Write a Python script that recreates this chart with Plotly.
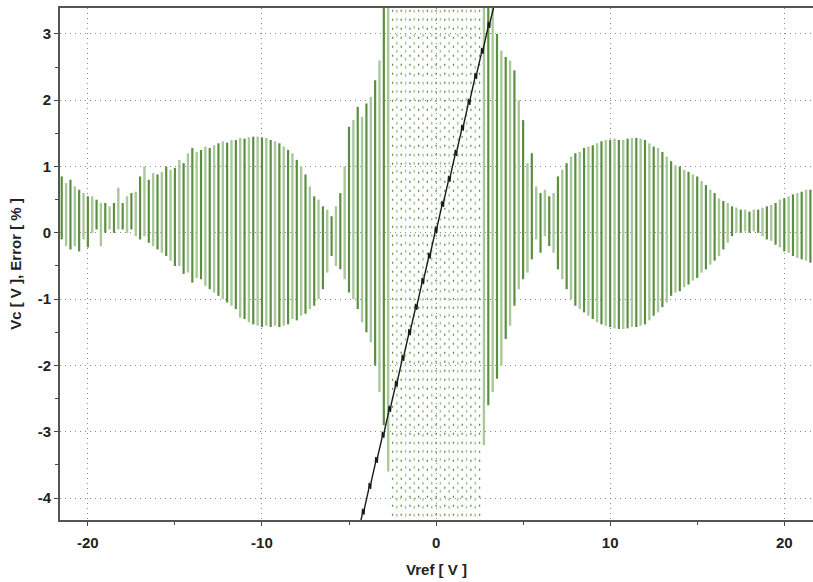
import plotly.graph_objects as go

# ---------------- data ----------------
# Error [%] sweep: one vertical stroke every 0.25 V of Vref (-21.5 .. 21.5),
# with the top and bottom of each stroke.
STROKE_VREF = [round(-21.5 + 0.25 * i, 2) for i in range(173)]

ERROR_TOP = [
    0.85, 0.75, 0.80, 0.70, 0.65, 0.60, 0.55, 0.55, 0.50, 0.45,   # -21.5 .. -19.25
    0.45, 0.40, 0.45, 0.68, 0.45, 0.55, 0.60, 0.62, 0.85, 1.00,   # -19.0 .. -16.75
    0.80, 0.90, 0.88, 0.92, 1.00, 0.95, 0.98, 1.10, 1.05, 1.20,   # -16.5 .. -14.25
    1.28, 1.22, 1.25, 1.30, 1.28, 1.32, 1.35, 1.38, 1.36, 1.40,   # -14.0 .. -11.75
    1.40, 1.43, 1.42, 1.44, 1.45, 1.45, 1.44, 1.43, 1.40, 1.38,   # -11.5 .. -9.25
    1.35, 1.30, 1.25, 1.20, 1.10, 1.00, 0.88, 0.70, 0.55, 0.50,   # -9.0 .. -6.75
    0.40, 0.35, 0.25, 0.40, 0.60, 1.00, 1.60, 1.70, 1.90, 1.75,   # -6.5 .. -4.25
    1.95, 2.05, 2.30, 2.60, 3.40, 3.40, 3.40, 3.40, 3.40, 3.40,   # -4.0 .. -1.75
    3.40, 3.40, 3.40, 3.40, 3.40, 3.40, 3.40, 3.40, 3.40, 3.40,   # -1.5 .. 0.75
    3.40, 3.40, 3.40, 3.40, 3.40, 3.40, 3.40, 3.40, 3.40, 3.40,   # 1.0 .. 3.25
    3.00, 2.75, 2.65, 2.60, 2.45, 2.00, 1.70, 1.05, 1.20, 0.70,   # 3.5 .. 5.75
    0.60, 0.65, 0.55, 0.60, 0.85, 0.95, 1.05, 1.15, 1.20, 1.22,   # 6.0 .. 8.25
    1.28, 1.30, 1.32, 1.35, 1.38, 1.40, 1.40, 1.42, 1.40, 1.40,   # 8.5 .. 10.75
    1.42, 1.43, 1.43, 1.42, 1.40, 1.35, 1.30, 1.28, 1.22, 1.15,   # 11.0 .. 13.25
    1.08, 1.02, 1.00, 0.95, 0.92, 0.88, 0.85, 0.78, 0.72, 0.65,   # 13.5 .. 15.75
    0.60, 0.52, 0.48, 0.45, 0.40, 0.38, 0.35, 0.35, 0.32, 0.35,   # 16.0 .. 18.25
    0.35, 0.38, 0.40, 0.42, 0.45, 0.50, 0.52, 0.55, 0.58, 0.60,   # 18.5 .. 20.75
    0.62, 0.65, 0.65,                                             # 21.0 .. 21.5
]

ERROR_BOTTOM = [
    -0.10, -0.20, -0.25, -0.20, -0.28, -0.10, -0.22, 0.00, 0.05, -0.20,   # -21.5 .. -19.25
    0.00, 0.05, 0.00, 0.05, 0.05, 0.00, 0.05, -0.05, -0.10, -0.05,       # -19.0 .. -16.75
    -0.15, -0.20, -0.25, -0.30, -0.35, -0.42, -0.50, -0.50, -0.62, -0.60, # -16.5 .. -14.25
    -0.75, -0.68, -0.70, -0.80, -0.85, -0.90, -0.95, -1.00, -1.05, -1.10, # -14.0 .. -11.75
    -1.15, -1.28, -1.30, -1.35, -1.38, -1.40, -1.42, -1.40, -1.42, -1.40, # -11.5 .. -9.25
    -1.42, -1.40, -1.38, -1.30, -1.32, -1.25, -1.22, -1.15, -1.10, -1.00, # -9.0 .. -6.75
    -0.85, -0.60, -0.35, -0.50, -0.55, -0.70, -0.90, -1.00, -1.15, -1.35, # -6.5 .. -4.25
    -1.50, -1.65, -2.00, -2.40, -2.90, -3.60, -4.40, -4.40, -4.40, -4.40, # -4.0 .. -1.75
    -4.40, -4.40, -4.40, -4.40, -4.40, -4.40, -4.40, -4.40, -4.40, -4.40, # -1.5 .. 0.75
    -4.40, -4.40, -4.40, -4.40, -4.40, -4.40, -4.40, -3.20, -2.60, -2.40, # 1.0 .. 3.25
    -2.20, -2.00, -1.60, -1.40, -1.10, -0.85, -0.70, -0.60, -0.40, -0.10, # 3.5 .. 5.75
    -0.30, -0.05, -0.20, -0.30, -0.55, -0.70, -0.85, -1.00, -1.10, -1.15, # 6.0 .. 8.25
    -1.20, -1.25, -1.30, -1.35, -1.38, -1.40, -1.42, -1.44, -1.45, -1.45, # 8.5 .. 10.75
    -1.44, -1.42, -1.42, -1.40, -1.38, -1.32, -1.25, -1.20, -1.12, -1.05, # 11.0 .. 13.25
    -0.95, -0.90, -0.88, -0.82, -0.78, -0.72, -0.68, -0.60, -0.55, -0.48, # 13.5 .. 15.75
    -0.42, -0.35, -0.25, -0.15, -0.05, 0.00, 0.00, 0.02, 0.00, 0.02,     # 16.0 .. 18.25
    0.00, -0.05, -0.10, -0.12, -0.18, -0.22, -0.28, -0.30, -0.35, -0.38, # 18.5 .. 20.75
    -0.40, -0.42, -0.45,                                                 # 21.0 .. 21.5
]

# Vc [V] versus Vref [V] (black staircase line), vertices
VC_VREF = [
    -4.40, -4.25, -4.22, -4.14, -4.11, -3.87, -3.84, -3.76, -3.73,
    -3.49, -3.46, -3.38, -3.35, -3.11, -3.08, -3.00, -2.97,
    -2.73, -2.70, -2.62, -2.59, -2.35, -2.32, -2.24, -2.21,
    -1.97, -1.94, -1.86, -1.83, -1.59, -1.56, -1.48, -1.45,
    -1.21, -1.18, -1.10, -1.07, -0.83, -0.80, -0.72, -0.69,
    -0.45, -0.42, -0.34, -0.31, -0.07, -0.04, 0.04, 0.07,
    0.31, 0.34, 0.42, 0.45, 0.69, 0.72, 0.80, 0.83,
    1.07, 1.10, 1.18, 1.21, 1.45, 1.48, 1.56, 1.59,
    1.83, 1.86, 1.94, 1.97, 2.21, 2.24, 2.32, 2.35,
    2.59, 2.62, 2.70, 2.73, 2.97, 3.00, 3.08, 3.11, 3.45,
]
VC_VALUE = [
    -4.43, -4.26, -4.16, -4.25, -4.15, -3.87, -3.77, -3.86, -3.76,
    -3.48, -3.38, -3.47, -3.37, -3.10, -3.00, -3.09, -2.99,
    -2.71, -2.61, -2.70, -2.60, -2.33, -2.23, -2.32, -2.22,
    -1.94, -1.84, -1.93, -1.83, -1.55, -1.45, -1.54, -1.44,
    -1.17, -1.07, -1.16, -1.06, -0.78, -0.68, -0.77, -0.67,
    -0.40, -0.30, -0.39, -0.29, -0.01, 0.09, 0.00, 0.10,
    0.38, 0.48, 0.39, 0.49, 0.76, 0.86, 0.77, 0.87,
    1.15, 1.25, 1.16, 1.26, 1.53, 1.63, 1.54, 1.64,
    1.92, 2.02, 1.93, 2.03, 2.31, 2.41, 2.32, 2.42,
    2.69, 2.79, 2.70, 2.80, 3.08, 3.18, 3.09, 3.19, 3.55,
]

X_TICKS = [-20, -10, 0, 10, 20]
Y_TICKS = [-4, -3, -2, -1, 0, 1, 2, 3]
X_RANGE = [-21.6, 21.65]
Y_RANGE = [-4.33, 3.39]

# ---------------- build figure ----------------
DARK = "#5b8f3f"
LIGHT = "#a9c89b"

groups = {("dark", False): ([], []), ("light", False): ([], []),
          ("dark", True): ([], []), ("light", True): ([], [])}
for i, x in enumerate(STROKE_VREF):
    top = ERROR_TOP[i]
    bot = ERROR_BOTTOM[i]
    burst = top >= Y_RANGE[1] and bot <= Y_RANGE[0]
    key = ("dark" if i % 2 == 0 else "light", burst)
    xs, ys = groups[key]
    xs += [x, x, None]
    ys += [bot, top, None]

fig = go.Figure()
styles = {
    ("light", False): dict(color=LIGHT, width=2.4),
    ("dark", False): dict(color=DARK, width=2.2),
    ("light", True): dict(color=LIGHT, width=1.5, dash="3px,5px"),
    ("dark", True): dict(color=DARK, width=1.3, dash="2px,7px"),
}
for key in [("light", False), ("dark", False), ("light", True), ("dark", True)]:
    xs, ys = groups[key]
    fig.add_trace(go.Scatter(x=xs, y=ys, mode="lines", line=styles[key],
                             hoverinfo="skip", showlegend=False))

fig.add_trace(go.Scatter(x=VC_VREF, y=VC_VALUE, mode="lines",
                         line=dict(color="#1a1a1a", width=1.4),
                         showlegend=False, name="Vc"))

FONT = "Liberation Sans, Arial, sans-serif"
tickfont = dict(family=FONT, size=15, color="#222222", weight="bold")
titlefont = dict(family=FONT, size=15, color="#222222", weight="bold")

fig.update_layout(
    width=813, height=582,
    margin=dict(l=60, r=0, t=8, b=62),
    paper_bgcolor="white", plot_bgcolor="white",
    xaxis=dict(
        range=X_RANGE, tickmode="array", tickvals=X_TICKS,
        ticktext=[str(v) for v in X_TICKS],
        tickfont=tickfont, ticks="outside", ticklen=4, tickcolor="#444",
        ticklabelstandoff=4,
        showgrid=True, gridcolor="#8a8a8a", griddash="1px,4px", gridwidth=1,
        zeroline=False, showline=True, linecolor="#555555", linewidth=2,
        mirror=True,
        minor=dict(tickvals=[-15, -5, 5, 15], ticks="outside", ticklen=3,
                   tickcolor="#444", showgrid=False),
        title=dict(text="Vref [ V ]", font=titlefont, standoff=14),
    ),
    yaxis=dict(
        range=Y_RANGE, tickmode="array", tickvals=Y_TICKS,
        ticktext=[str(v) for v in Y_TICKS],
        tickfont=tickfont, ticks="outside", ticklen=4, tickcolor="#444",
        showgrid=True, gridcolor="#8a8a8a", griddash="1px,4px", gridwidth=1,
        zeroline=False, showline=True, linecolor="#555555", linewidth=2,
        minor=dict(tickvals=[-3.5, -2.5, -1.5, -0.5, 0.5, 1.5, 2.5],
                   ticks="outside", ticklen=3, tickcolor="#444", showgrid=False),
        title=dict(text="Vc [ V ], Error [ % ]", font=titlefont, standoff=12),
    ),
)

fig.write_html("out.html")
